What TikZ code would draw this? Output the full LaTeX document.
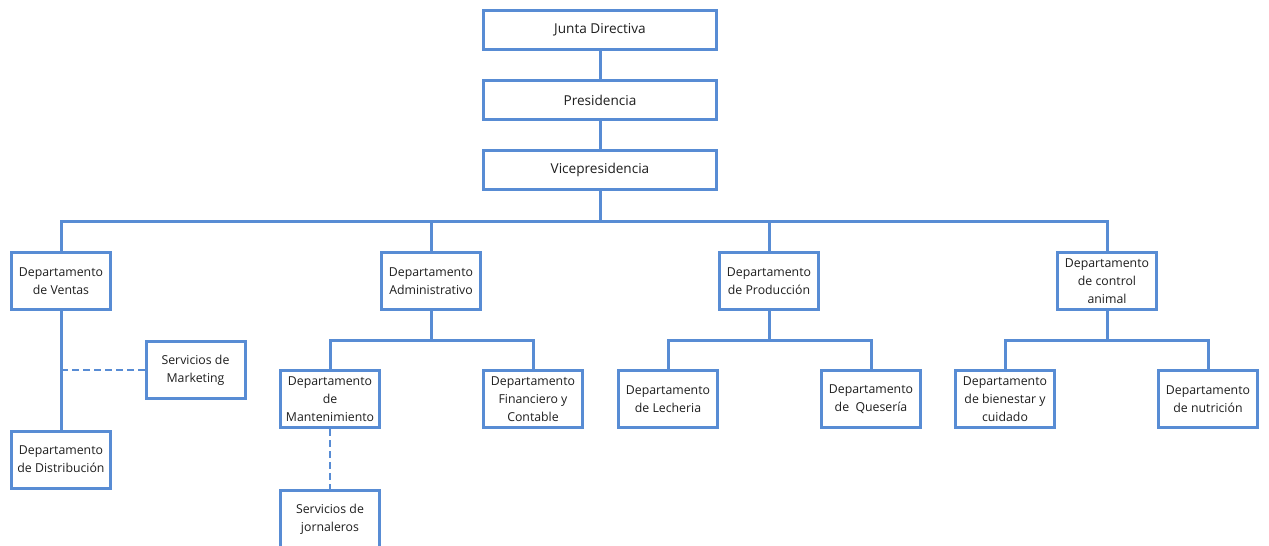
\documentclass[tikz,border=0pt]{standalone}
\usepackage{fontspec}
\setmainfont{Open Sans}
\definecolor{lnblue}{RGB}{88,140,212}
\definecolor{txt}{RGB}{30,30,30}
\begin{document}
\begin{tikzpicture}[x=1pt,y=-1pt,
  box/.style={draw=lnblue,line width=3pt,fill=white,rectangle,inner sep=0pt,
    minimum width=99pt,minimum height=57pt,align=center,text=txt,
    font=\fontsize{12.3}{18}\selectfont},
  topbox/.style={box,minimum width=233pt,minimum height=39pt,
    font=\fontsize{13.6}{18}\selectfont},
  conn/.style={draw=lnblue,line width=3pt},
  dconn/.style={draw=lnblue,line width=1.6pt,dash pattern=on 7pt off 4pt}]
\useasboundingbox (0,0) rectangle (1269,546);
% top chain
\node[topbox] (jd) at (600,30) {Junta Directiva};
\node[topbox] (pr) at (600,100) {Presidencia};
\node[topbox] (vp) at (600,170) {Vicepresidencia};
% level 2
\node[box] (ven) at (61,281) {Departamento\\de Ventas};
\node[box] (adm) at (431,281) {Departamento\\Administrativo};
\node[box] (prod) at (769,281) {Departamento\\de Producción};
\node[box] (ctrl) at (1107,281) {Departamento\\de control\\animal};
% ventas branch
\node[box] (mkt) at (195.5,370) {Servicios de\\Marketing};
\node[box] (dist) at (61,459.5) {Departamento\\de Distribución};
% admin branch
\node[box] (mant) at (330,399) {Departamento\\de\\Mantenimiento};
\node[box] (fin) at (533,399) {Departamento\\Financiero y\\Contable};
\node[box] (jorn) at (330,519) {Servicios de\\jornaleros};
% produccion branch
\node[box] (lech) at (668,399) {Departamento\\de Lecheria};
\node[box] (ques) at (871,399) {Departamento\\de\ \ Quesería};
% control branch
\node[box] (bien) at (1005,399) {Departamento\\de bienestar y\\cuidado};
\node[box] (nut) at (1208,399) {Departamento\\de nutrición};
% coordinates
\coordinate (b0) at (600,221);
\coordinate (ba) at (431,340);
\coordinate (bp) at (769,340);
\coordinate (bc) at (1107,340);
% connectors
\draw[conn] (jd.south) -- (pr.north);
\draw[conn] (pr.south) -- (vp.north);
\draw[conn] (vp.south) -- (b0);
\draw[conn] (ven.north) |- (b0) -| (ctrl.north);
\draw[conn] (adm.north) -- (adm.north |- b0);
\draw[conn] (prod.north) -- (prod.north |- b0);
\draw[conn] (ven.south) -- (dist.north);
\draw[dconn] (mkt.west) -- (mkt.west -| ven.south);
\draw[conn] (adm.south) -- (ba);
\draw[conn] (mant.north) |- (ba) -| (fin.north);
\draw[dconn] (mant.south) -- (jorn.north);
\draw[conn] (prod.south) -- (bp);
\draw[conn] (lech.north) |- (bp) -| (ques.north);
\draw[conn] (ctrl.south) -- (bc);
\draw[conn] (bien.north) |- (bc) -| (nut.north);
\end{tikzpicture}
\end{document}
